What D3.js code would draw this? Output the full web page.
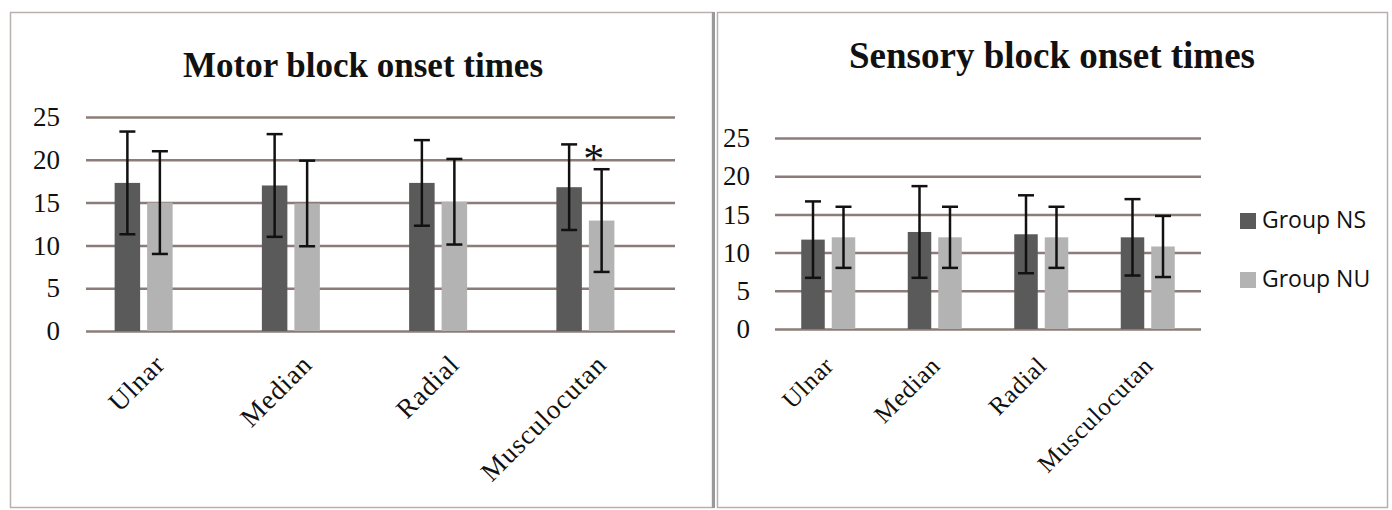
<!DOCTYPE html>
<html>
<head>
<meta charset="utf-8">
<script src="https://cdn.jsdelivr.net/npm/d3@7"></script>
<style>
  body { margin: 0; background: #fff; }
  svg { display: block; }
</style>
</head>
<body>
<div id="chart"></div>
<script>
// nerves on the x axis, two groups
var categories = ["Ulnar", "Median", "Radial", "Musculocutan"];
var seriesNames = ["Group NS", "Group NU"];
var yTicks = [0, 5, 10, 15, 20, 25];

// motor block onset (mean, sd)
var motorNS = [17.3, 17.0, 17.3, 16.8];
var motorNSsd = [6.0, 6.0, 5.0, 5.0];
var motorNU = [15.0, 14.9, 15.1, 12.9];
var motorNUsd = [6.0, 5.0, 5.0, 6.0];

// sensory block onset (mean, sd)
var sensoryNS = [11.7, 12.7, 12.4, 12.0];
var sensoryNSsd = [5.0, 6.0, 5.1, 5.0];
var sensoryNU = [12.0, 12.0, 12.0, 10.8];
var sensoryNUsd = [4.0, 4.0, 4.0, 4.0];

// significant difference marks
var motorStars = ["Musculocutan"];

var colors = ["#5a5a5a", "#b3b3b3"];
var gridColor = "#8c7c79";
var serif = "'Liberation Serif', 'Times New Roman', serif";

var svg = d3.select("#chart").append("svg")
    .attr("width", 1392)
    .attr("height", 510);

// panel frames
svg.append("rect")
    .attr("x", 10.5).attr("y", 12.5)
    .attr("width", 702).attr("height", 495)
    .attr("fill", "none").attr("stroke", "#b9b0ae").attr("stroke-width", 1.5);
svg.append("rect")
    .attr("x", 717.5).attr("y", 12.5)
    .attr("width", 670).attr("height", 495)
    .attr("fill", "none").attr("stroke", "#b9b0ae").attr("stroke-width", 1.5);
svg.append("line")
    .attr("x1", 713.5).attr("x2", 713.5).attr("y1", 12).attr("y2", 508)
    .attr("stroke", "#999").attr("stroke-width", 3);

function panel(o) {
    var y = d3.scaleLinear().domain([0, 25]).range([o.y0, o.y1]);
    var x = d3.scaleBand().domain(categories).range([o.gx0, o.gx1]);
    var g = svg.append("g");

    g.append("text")
        .attr("x", o.titleX).attr("y", o.titleY)
        .attr("text-anchor", "middle")
        .attr("font-family", serif).attr("font-weight", "bold")
        .attr("font-size", o.titleSize)
        .attr("fill", "#111")
        .text(o.title);

    g.append("g")
        .attr("transform", "translate(" + o.gx0 + ",0)")
        .call(d3.axisLeft(y).tickValues(yTicks).tickSize(-(o.gx1 - o.gx0)).tickPadding(o.gx0 - o.labelX))
        .call(a => a.select(".domain").remove())
        .call(a => a.selectAll("line").attr("stroke", gridColor).attr("stroke-width", 2.5))
        .call(a => a.selectAll("text")
            .attr("font-family", serif).attr("font-size", 27).attr("fill", "#111"));

    g.append("g")
        .attr("transform", "translate(0," + o.y0 + ")")
        .call(d3.axisBottom(x).tickSize(0))
        .call(a => a.select(".domain").remove())
        .call(a => a.selectAll("text")
            .attr("y", 0).attr("dy", 0)
            .attr("text-anchor", "end")
            .attr("transform", "translate(" + o.lblDx + "," + o.lblDy + ") rotate(-45)")
            .attr("font-family", serif).attr("font-size", o.lblSize)
            .attr("letter-spacing", o.lblSpacing)
            .attr("fill", "#111"));

    var rows = [];
    categories.forEach(function (c, i) {
        rows.push({ cat: c, s: 0, v: o.ns[i], sd: o.nsSd[i] });
        rows.push({ cat: c, s: 1, v: o.nu[i], sd: o.nuSd[i] });
    });

    function barX(d) {
        var c = x(d.cat) + x.bandwidth() / 2 + o.shift;
        return d.s === 0 ? c - o.gap / 2 - o.barW : c + o.gap / 2;
    }
    function midX(d) { return barX(d) + o.barW / 2; }

    g.selectAll("rect.bar")
        .data(rows)
        .enter()
        .append("rect")
        .attr("class", "bar")
        .attr("x", barX)
        .attr("y", d => y(d.v))
        .attr("width", o.barW)
        .attr("height", d => y(0) - y(d.v))
        .attr("fill", d => colors[d.s]);

    var err = g.selectAll("g.err")
        .data(rows)
        .enter()
        .append("g")
        .attr("class", "err")
        .attr("stroke", "#111")
        .attr("stroke-width", 2.5);
    err.append("line")
        .attr("x1", midX).attr("x2", midX)
        .attr("y1", d => y(d.v + d.sd)).attr("y2", d => y(d.v - d.sd));
    err.append("line")
        .attr("x1", d => midX(d) - 8).attr("x2", d => midX(d) + 8)
        .attr("y1", d => y(d.v + d.sd)).attr("y2", d => y(d.v + d.sd));
    err.append("line")
        .attr("x1", d => midX(d) - 8).attr("x2", d => midX(d) + 8)
        .attr("y1", d => y(d.v - d.sd)).attr("y2", d => y(d.v - d.sd));

    g.selectAll("text.star")
        .data(rows.filter(d => d.s === 1 && o.stars.indexOf(d.cat) >= 0))
        .enter()
        .append("text")
        .attr("class", "star")
        .attr("x", d => midX(d) - 8)
        .attr("y", d => y(d.v + d.sd) + 4)
        .attr("text-anchor", "middle")
        .attr("font-family", serif).attr("font-size", 42)
        .attr("fill", "#111")
        .text("*");

    if (o.legend) {
        var lg = g.selectAll("g.legend")
            .data(seriesNames)
            .enter()
            .append("g")
            .attr("class", "legend")
            .attr("transform", (d, i) => "translate(" + o.legendX + "," + (o.legendY + i * 59) + ")");
        lg.append("rect")
            .attr("width", 16).attr("height", 16)
            .attr("fill", (d, i) => colors[i]);
        lg.append("text")
            .attr("x", 22).attr("y", 14.5)
            .attr("font-family", "'Open Sans', sans-serif").attr("font-size", 23)
            .attr("fill", "#111")
            .text(d => d);
    }
}

panel({
    title: "Motor block onset times", titleX: 363, titleY: 77, titleSize: 35,
    y0: 331, y1: 117, gx0: 86, gx1: 675, labelX: 60,
    shift: -16, barW: 25.5, gap: 7,
    lblDx: 7, lblDy: 35, lblSize: 27, lblSpacing: 1,
    ns: motorNS, nsSd: motorNSsd, nu: motorNU, nuSd: motorNUsd,
    stars: motorStars, legend: false
});

panel({
    title: "Sensory block onset times", titleX: 1052, titleY: 68, titleSize: 37,
    y0: 329, y1: 138, gx0: 775, gx1: 1201, labelX: 750,
    shift: 0, barW: 23.5, gap: 7,
    lblDx: 7, lblDy: 38, lblSize: 25, lblSpacing: 0.8,
    ns: sensoryNS, nsSd: sensoryNSsd, nu: sensoryNU, nuSd: sensoryNUsd,
    stars: [], legend: true, legendX: 1240, legendY: 213
});
</script>
</body>
</html>
